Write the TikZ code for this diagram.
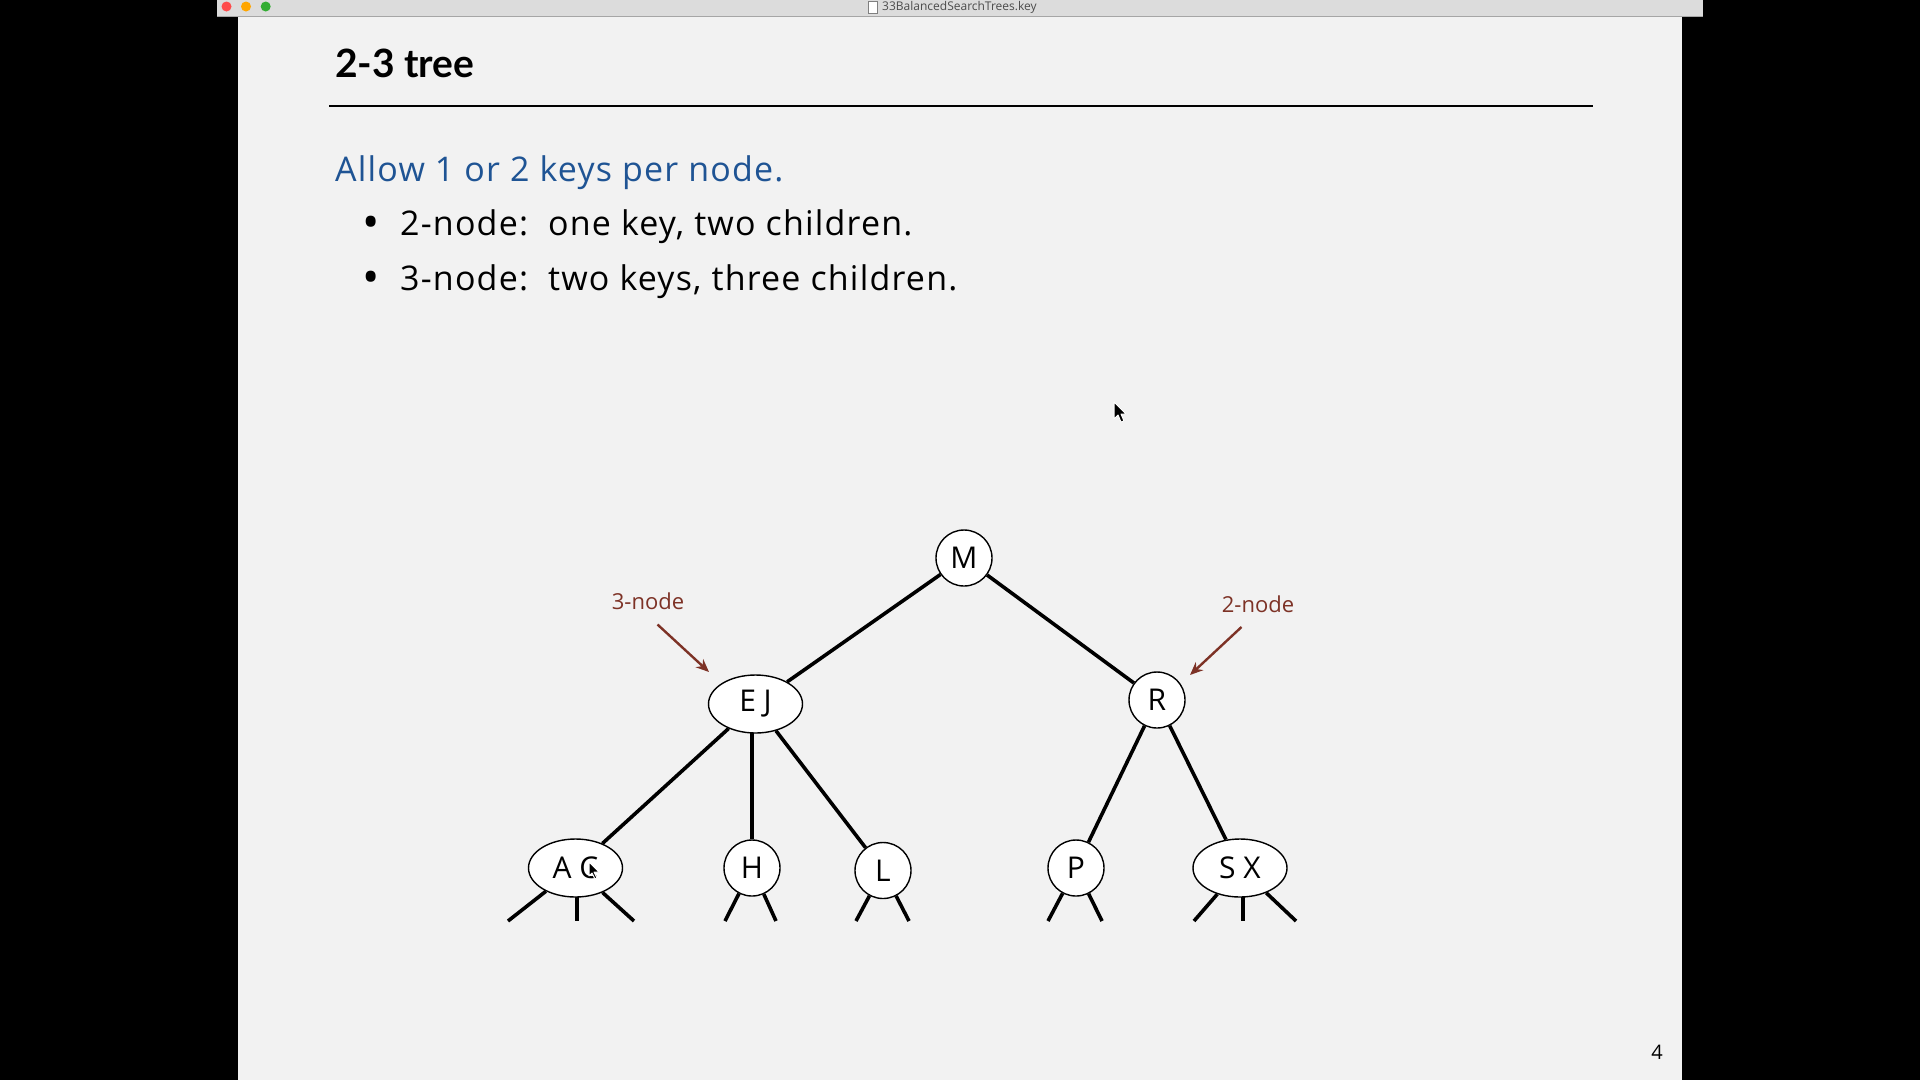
\documentclass[tikz,border=0pt]{standalone}
\usepackage{fontspec}
\setmainfont{Open Sans}
\newfontfamily\titlefont{Lato}
\usetikzlibrary{arrows.meta,shapes.geometric}
\pgfdeclarelayer{slidelayer}
\pgfdeclarelayer{linklayer}
\pgfsetlayers{slidelayer,linklayer,main}
\definecolor{slidebg}{HTML}{F2F2F2}
\definecolor{barbg}{HTML}{DCDCDC}
\definecolor{headblue}{RGB}{31,84,148}
\definecolor{notebrown}{RGB}{125,50,38}
\tikzset{
  twonode/.style={ellipse,draw=black,line width=1.4pt,fill=white,minimum width=56pt,minimum height=56pt,inner sep=0pt,font=\fontsize{30}{30}\selectfont},
  threenode/.style={twonode,minimum width=94pt,minimum height=58pt},
  link/.style={line width=3.6pt},
  note/.style={text=notebrown,font=\fontsize{22}{22}\selectfont},
  notearrow/.style={draw=notebrown,line width=2.4pt,-{Stealth[length=13pt,width=11pt]}},
  body/.style={anchor=base west,inner sep=0pt,font=\fontsize{34}{40}\selectfont\addfontfeature{LetterSpace=3.5}},
  bulletdot/.style={anchor=base west,inner sep=0pt,font=\fontsize{46}{46}\selectfont},
  cursor/.style={fill=black,draw=white,line width=1pt,line join=round}
}
\begin{document}
\begin{tikzpicture}[x=1pt,y=-1pt]
\useasboundingbox (0,0) rectangle (1920,1080);
\begin{pgfonlayer}{slidelayer}
\fill[black] (0,0) rectangle (1920,1080);
\fill[barbg] (217,0) rectangle (1703,17);
\draw[gray!70,line width=0.8pt] (217,16.6) -- (1703,16.6);
\fill[slidebg] (237.5,17) rectangle (1682,1080);
\end{pgfonlayer}
% window title bar
\fill[red!70!white] (226.5,6.5) circle (5);
\fill[orange!70!yellow] (246,6.5) circle (5);
\fill[green!60!black!80] (265.7,6.5) circle (5);
\draw[gray,fill=white,line width=0.5pt] (868,1) rectangle (877,13);
\node[anchor=west,inner sep=0pt,text=black!70,font=\fontsize{12}{12}\selectfont] (wintitle) at (882,7) {33BalancedSearchTrees.key};
% slide
\node[anchor=base west,inner sep=0pt,font=\titlefont\bfseries\fontsize{39}{39}\selectfont] (title) at (335,77) {2-3 tree};
\draw[line width=1.8pt] (329,106) -- (1593,106);
\node[body,text=headblue] (allow) at (335,181.5) {Allow 1 or 2 keys per node.};
\node[bulletdot] (b1dot) at (362,238) {\textbullet};
\node[body] (b1) at (400,235) {2-node:\ \ one key, two children.};
\node[bulletdot] (b2dot) at (362,293) {\textbullet};
\node[body] (b2) at (400,290) {3-node:\ \ two keys, three children.};
% tree
\node[twonode] (M) at (964,558) {M};
\node[threenode] (EJ) at (755.5,704) {E J};
\node[twonode] (R) at (1157,700) {R};
\node[threenode] (AC) at (575.5,868) {A C};
\node[twonode] (H) at (752,868) {H};
\node[twonode] (L) at (883,870.5) {L};
\node[twonode] (P) at (1076,868) {P};
\node[threenode] (SX) at (1240,868) {S X};
\coordinate (ac1) at (508,921);
\coordinate (ac2) at (577,921);
\coordinate (ac3) at (634,921);
\coordinate (h1) at (725,921);
\coordinate (h2) at (776,921);
\coordinate (l1) at (856,921);
\coordinate (l2) at (909,921);
\coordinate (p1) at (1048,921);
\coordinate (p2) at (1102,921);
\coordinate (sx1) at (1194,921);
\coordinate (sx2) at (1243,921);
\coordinate (sx3) at (1296,921);
\begin{pgfonlayer}{linklayer}
\draw[link] (M) -- (EJ);
\draw[link] (M) -- (R);
\draw[link] (EJ) -- (AC);
\draw[link] (EJ.center -| H) -- (H);
\draw[link] (EJ) -- (L);
\draw[link] (R) -- (P);
\draw[link] (R) -- (SX);
\draw[link] (AC) -- (ac1);
\draw[link] (AC.center -| ac2) -- (ac2);
\draw[link] (AC) -- (ac3);
\draw[link] (H) -- (h1);
\draw[link] (H) -- (h2);
\draw[link] (L) -- (l1);
\draw[link] (L) -- (l2);
\draw[link] (P) -- (p1);
\draw[link] (P) -- (p2);
\draw[link] (SX) -- (sx1);
\draw[link] (SX.center -| sx2) -- (sx2);
\draw[link] (SX) -- (sx3);
\end{pgfonlayer}
% annotations
\node[note] (n3) at (648,601) {3-node};
\node[note] (n2) at (1258,604) {2-node};
\coordinate (a3s) at (657.5,624.5);
\coordinate (a3e) at (709,672);
\coordinate (a2s) at (1241.5,627);
\coordinate (a2e) at (1190,675);
\draw[notearrow] (a3s) -- (a3e);
\draw[notearrow] (a2s) -- (a2e);
% cursors
\draw[cursor] (1114,402) -- (1114,419) -- (1118,415) -- (1121,422) -- (1124,421) -- (1121,414) -- (1126,414) -- cycle;
\draw[cursor] (589,862) -- (589,876) -- (592,873) -- (595,879) -- (597,878) -- (594,872) -- (599,872) -- cycle;
% page number
\node[anchor=base,inner sep=0pt,font=\fontsize{20}{20}\selectfont] (pagenum) at (1657,1059) {4};
\end{tikzpicture}
\end{document}
